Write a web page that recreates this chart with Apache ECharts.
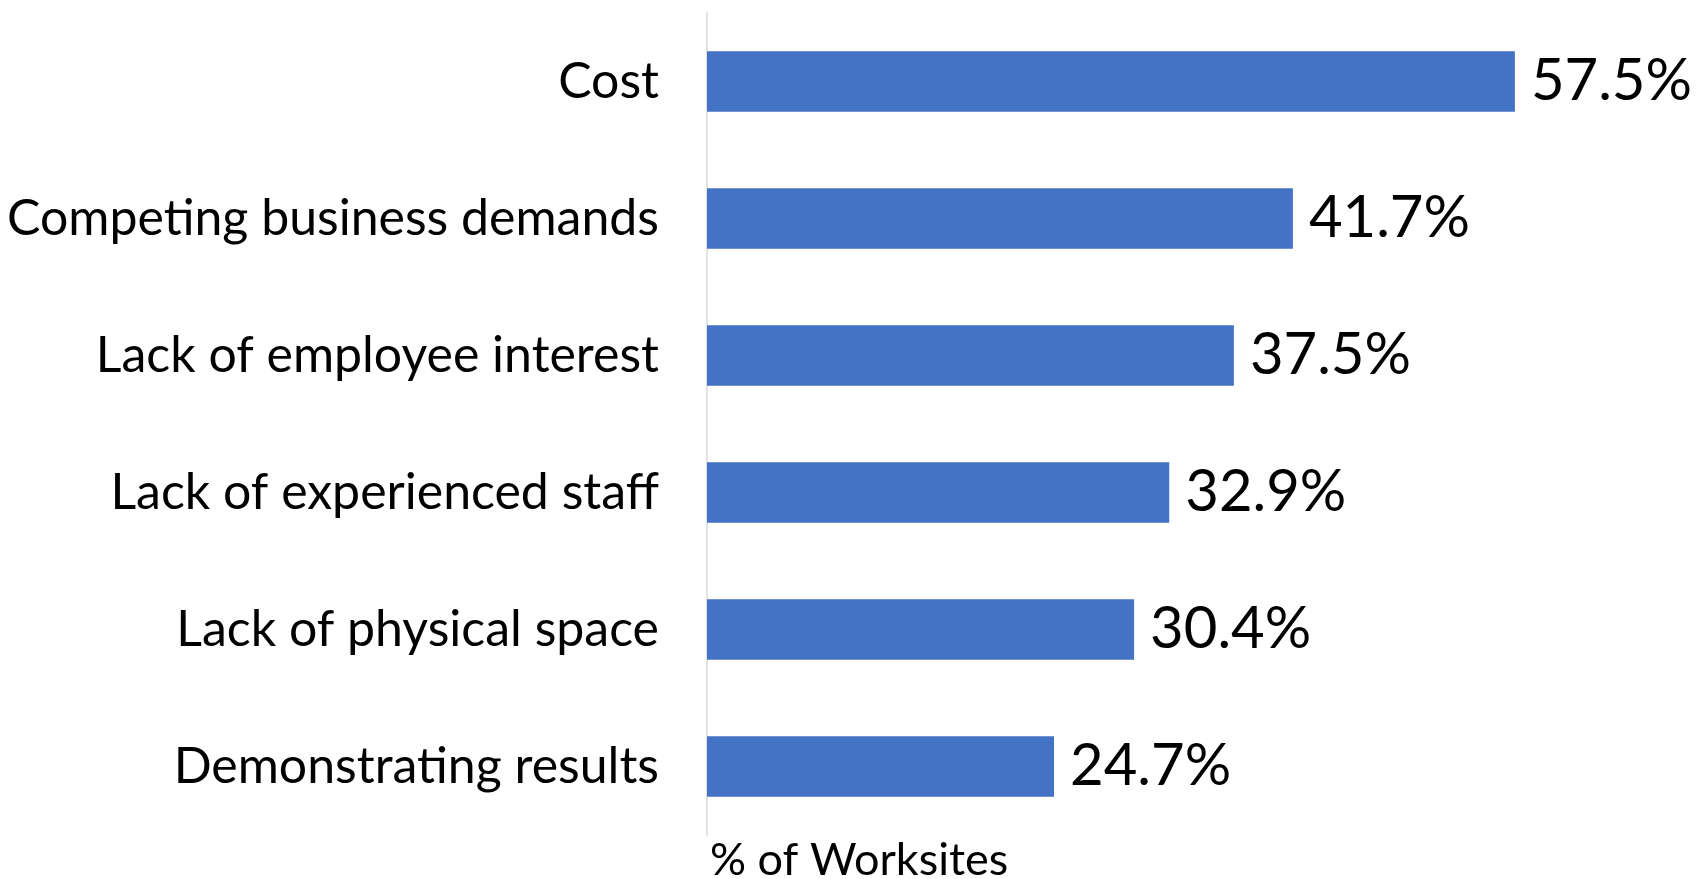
<!DOCTYPE html>
<html><head><meta charset="utf-8">
<script src="https://cdn.jsdelivr.net/npm/echarts@6/dist/echarts.min.js"></script>
<style>html,body{margin:0;padding:0;background:#fff}#c{width:1696px;height:879px}</style>
</head><body><div id="c"></div>
<script>
const categories = ["Cost","Competing business demands","Lack of employee interest","Lack of experienced staff","Lack of physical space","Demonstrating results"];
const values = [57.5, 41.7, 37.5, 32.9, 30.4, 24.7];
const axisTitle = "% of Worksites";

const chart = echarts.init(document.getElementById('c'));
chart.setOption({
  animation:false,
  grid:{left:707, top:13, width:843, height:822, containLabel:false},
  title:{text:axisTitle, left:705, top:833, textStyle:{fontFamily:'Lato', fontSize:45, fontWeight:'normal', color:'#000'}},
  xAxis:{type:'value', min:0, max:60, show:false},
  yAxis:{type:'category', data:categories, inverse:true,
    axisLine:{show:true, lineStyle:{color:'#d9d9d9', width:1.5}},
    axisTick:{show:false},
    axisLabel:{fontFamily:'Lato', fontSize:50, color:'#000', margin:48}
  },
  series:[{type:'bar', data:values, barCategoryGap:'56%',
    itemStyle:{color:'#4472C4'},
    label:{show:true, position:'right', distance:16, formatter:p=>p.value.toFixed(1)+'%',
      fontFamily:'Lato', fontSize:58, color:'#000'}
  }]
});
</script></body></html>
